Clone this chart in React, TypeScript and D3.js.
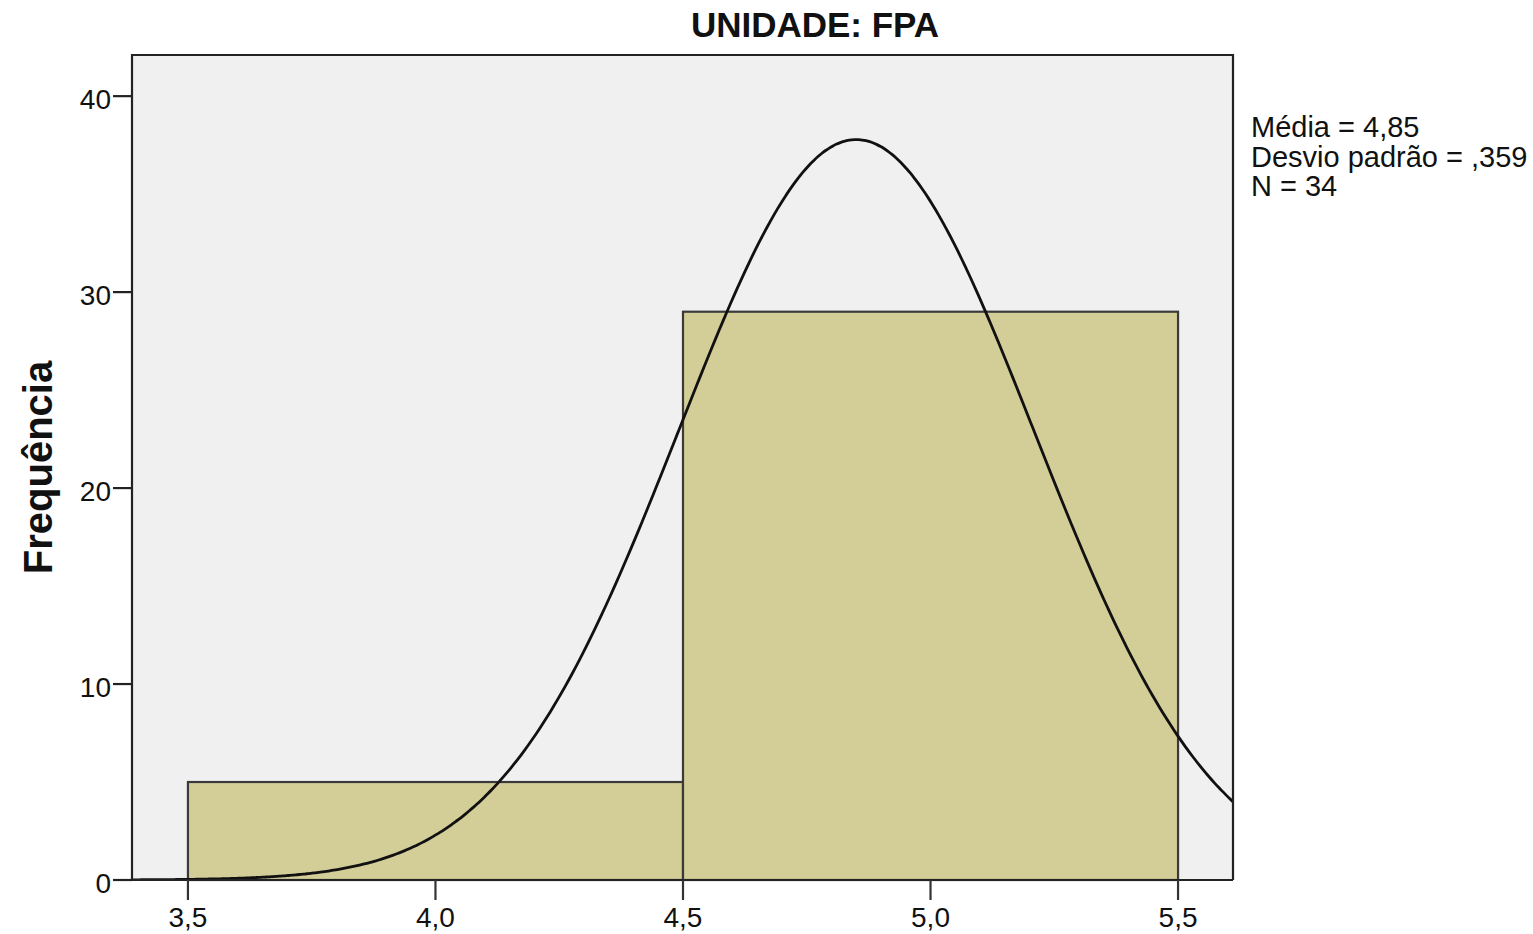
import * as d3 from "d3";

// Histogram bins
const binStarts = [3.5, 4.5];
const binWidth = 1;
const frequencies = [5, 29];

// Summary statistics shown next to the chart
const mean = 4.85;
const stdDev = 0.359;
const count = 34;
const statLines = ["Média = 4,85", "Desvio padrão = ,359", "N = 34"];

const xTicks = [3.5, 4.0, 4.5, 5.0, 5.5];
const yTicks = [0, 10, 20, 30, 40];

const title = "UNIDADE: FPA";
const yLabel = "Frequência";

const W = 1533;
const H = 934;
const margin = { top: 55, right: 300, bottom: 54, left: 132 };

const ptBR = d3.formatLocale({
  decimal: ",",
  thousands: ".",
  grouping: [3],
  currency: ["R$", ""],
});
const fmtX = ptBR.format(".1f");

export default function App() {
  const x = d3
    .scaleLinear()
    .domain([3.387, 5.611])
    .range([margin.left, W - margin.right]);
  const y = d3
    .scaleLinear()
    .domain([0, 42.1])
    .range([H - margin.bottom, margin.top]);

  const [x0, x1] = x.range();
  const [yBottom, yTop] = y.range();

  // Normal curve fitted from the displayed mean / sd / N
  const curveXs = d3.range(0, 301).map((i) => {
    const [a, b] = x.domain();
    return a + ((b - a) * i) / 300;
  });
  const curvePts: [number, number][] = curveXs.map((v) => [
    v,
    ((count * binWidth) / (stdDev * Math.sqrt(2 * Math.PI))) *
      Math.exp(-0.5 * ((v - mean) / stdDev) ** 2),
  ]);
  const line = d3
    .line<[number, number]>()
    .x((d) => x(d[0]))
    .y((d) => y(d[1]))
    .curve(d3.curveMonotoneX);

  const font = "'Liberation Sans', Arial, sans-serif";

  return (
    <svg
      width={W}
      height={H}
      style={{ position: "absolute", left: 0, top: 0, background: "#fff" }}
      fontFamily={font}
    >
      <defs>
        <clipPath id="plot-clip">
          <rect x={x0} y={yTop} width={x1 - x0} height={yBottom - yTop} />
        </clipPath>
      </defs>

      <rect x={x0} y={yTop} width={x1 - x0} height={yBottom - yTop} fill="#f0f0f0" />

      {binStarts.map((s, i) => (
        <rect
          key={s}
          x={x(s)}
          y={y(frequencies[i])}
          width={x(s + binWidth) - x(s)}
          height={yBottom - y(frequencies[i])}
          fill="#d3cd98"
          stroke="#3a3a3a"
          strokeWidth={2.2}
        />
      ))}

      <path
        d={line(curvePts) ?? ""}
        fill="none"
        stroke="#111"
        strokeWidth={2.8}
        clipPath="url(#plot-clip)"
      />

      {/* frame */}
      <path
        d={`M${x0},${yBottom}V${yTop}H${x1}V${yBottom}`}
        fill="none"
        stroke="#222"
        strokeWidth={2.2}
      />
      <line x1={x0 - 19} x2={x1} y1={yBottom} y2={yBottom} stroke="#222" strokeWidth={2.2} />

      {/* y axis ticks */}
      {yTicks.map((t) => (
        <g key={t}>
          <line x1={x0 - 19} x2={x0} y1={y(t)} y2={y(t)} stroke="#222" strokeWidth={2.2} />
          <text x={x0 - 21} y={y(t) + 13} textAnchor="end" fontSize={28} fill="#111">
            {t}
          </text>
        </g>
      ))}

      {/* x axis ticks */}
      {xTicks.map((t) => (
        <g key={t}>
          <line x1={x(t)} x2={x(t)} y1={yBottom} y2={yBottom + 20} stroke="#333" strokeWidth={2.2} />
          <text x={x(t)} y={927} textAnchor="middle" fontSize={28} fill="#111">
            {fmtX(t)}
          </text>
        </g>
      ))}

      <text x={815} y={37} textAnchor="middle" fontSize={35} fontWeight="bold" fill="#111">
        {title}
      </text>

      <text
        transform={`translate(52,${(yTop + yBottom) / 2}) rotate(-90)`}
        textAnchor="middle"
        fontSize={40}
        fontWeight="bold"
        fill="#111"
      >
        {yLabel}
      </text>

      {statLines.map((s, i) => (
        <text key={s} x={1251} y={137 + i * 29.5} fontSize={29} fill="#111">
          {s}
        </text>
      ))}
    </svg>
  );
}
